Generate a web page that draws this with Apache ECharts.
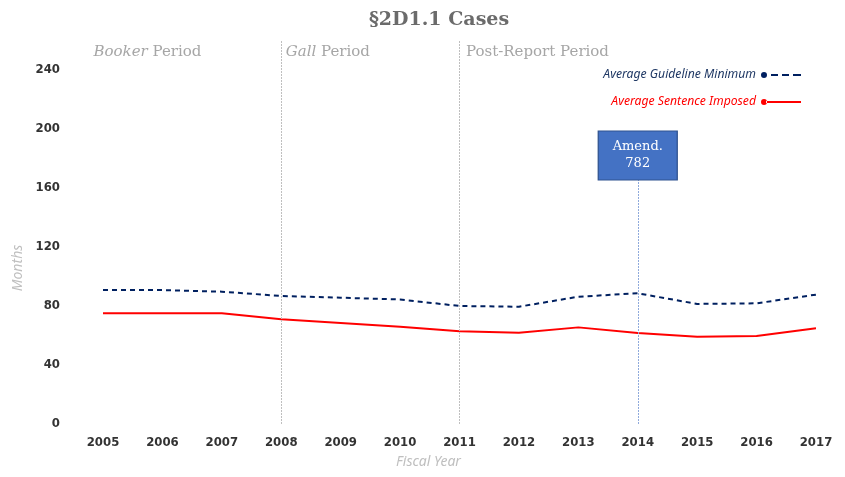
<!DOCTYPE html>
<html>
<head>
<meta charset="utf-8">
<script src="https://cdn.jsdelivr.net/npm/echarts@6/dist/echarts.min.js"></script>
<style>
  html, body { margin: 0; padding: 0; background: #fff; }
  #main { width: 845px; height: 477px; }
</style>
</head>
<body>
<div id="main"></div>
<script>
var years = ['2005','2006','2007','2008','2009','2010','2011','2012','2013','2014','2015','2016','2017'];
var guidelineMin = [90.8, 90.8, 89.7, 86.8, 85.6, 84.4, 80.0, 79.5, 86.3, 88.6, 81.4, 81.8, 87.7];
var sentenceImposed = [75.0, 75.0, 75.0, 71.0, 68.5, 66.0, 62.8, 61.9, 65.5, 61.7, 59.2, 59.7, 64.9];
var periodYears = ['2005', '2008', '2011'];
var periodNames = ['{i|Booker} Period', '{i|Gall} Period', 'Post-Report Period'];
var amendYear = '2014';

var labelFont = '"Liberation Sans Narrow", "DejaVu Sans Condensed", Roboto, sans-serif';
var serifFont = '"DejaVu Serif", "Liberation Serif", serif';
var greyText = '#BFBFBF';
var periodGrey = '#A6A6A6';

var periodOffsets = [-10, 4, 6];
var periodPoints = periodYears.map(function (y, i) {
  return {
    coord: [y, 252.2],
    label: { formatter: periodNames[i], offset: [periodOffsets[i], 0] }
  };
});

var myChart = echarts.init(document.getElementById('main'));
myChart.setOption({
  backgroundColor: '#fff',
  animation: false,
  title: {
    text: '§2D1.1 Cases',
    left: 434,
    textAlign: 'center',
    top: 6,
    textStyle: { fontFamily: serifFont, fontSize: 19, fontWeight: 'bold', color: '#6B6B6B' }
  },
  legend: {
    orient: 'vertical',
    right: 39,
    top: 64,
    align: 'right',
    itemWidth: 40,
    itemHeight: 6,
    itemGap: 15,
    textStyle: { fontFamily: '"Noto Sans", sans-serif', fontStyle: 'italic', fontSize: 12.2 },
    data: [
      {
        name: 'Average Guideline Minimum',
        icon: 'path://M0,3a3,3 0 1,0 6,0a3,3 0 1,0 -6,0z M10,2h7v2h-7z M21,2h7v2h-7z M32,2h8v2h-8z',
        textStyle: { color: '#1F3864' }
      },
      {
        name: 'Average Sentence Imposed',
        icon: 'path://M0,3a3,3 0 1,0 6,0a3,3 0 1,0 -6,0z M5,2h35v2h-35z',
        textStyle: { color: '#FF0000' }
      }
    ]
  },
  grid: { left: 103, right: 29, top: 40, bottom: 53 },
  xAxis: {
    type: 'category',
    data: years,
    boundaryGap: false,
    axisLine: { show: false },
    axisTick: { show: false },
    axisLabel: { margin: 12, fontFamily: labelFont, fontWeight: 'bold', fontSize: 13, color: '#333333' },
    name: 'Fiscal Year',
    nameLocation: 'middle',
    nameGap: 31,
    nameTextStyle: { fontFamily: '"Noto Sans", sans-serif', fontStyle: 'italic', fontSize: 14, color: greyText, padding: [0, 62, 0, 0] }
  },
  yAxis: {
    type: 'value',
    min: 0,
    max: 260.3,
    interval: 40,
    splitLine: { show: false },
    axisLine: { show: false },
    axisTick: { show: false },
    axisLabel: { showMaxLabel: false, margin: 43, padding: [4, 0, 0, 0], fontFamily: labelFont, fontWeight: 'bold', fontSize: 13, color: '#333333' },
    name: 'Months',
    nameLocation: 'middle',
    nameGap: 78,
    nameTextStyle: { fontFamily: '"Noto Sans", sans-serif', fontStyle: 'italic', fontSize: 14, color: greyText, padding: [0, 72, 0, 0] }
  },
  series: [
    {
      name: 'Average Guideline Minimum',
      type: 'line',
      data: guidelineMin,
      symbol: 'none',
      color: '#002060',
      lineStyle: { color: '#002060', width: 2, type: [5, 4] },
      markLine: {
        silent: true,
        symbol: ['none', 'none'],
        label: { show: false },
        lineStyle: { color: '#BFBFBF', width: 1, type: [2, 1] },
        data: [
          { xAxis: '2008', lineStyle: { color: '#BFBFBF' } },
          { xAxis: '2011', lineStyle: { color: '#BFBFBF' } }
        ]
      },
      markPoint: {
        silent: true,
        symbol: 'circle',
        symbolSize: 1,
        itemStyle: { color: 'rgba(0,0,0,0)' },
        label: {
          show: true,
          position: 'right',
          distance: 0,
          fontFamily: serifFont,
          fontSize: 15,
          color: periodGrey,
          rich: { i: { fontFamily: serifFont, fontSize: 15, fontStyle: 'italic', color: periodGrey } }
        },
        data: periodPoints
      }
    },
    {
      name: 'Average Sentence Imposed',
      type: 'line',
      data: sentenceImposed,
      symbol: 'none',
      color: '#FF0000',
      lineStyle: { color: '#FF0000', width: 2 },
      markLine: {
        silent: true,
        symbol: ['none', 'none'],
        label: { show: false },
        lineStyle: { color: '#8FAADC', width: 1, type: [2, 1] },
        data: [[{ coord: [amendYear, 0] }, { coord: [amendYear, 165.4] }]]
      },
      markPoint: {
        silent: true,
        symbol: 'rect',
        symbolSize: [79, 49],
        itemStyle: { color: '#4472C4', borderColor: '#2F528F', borderWidth: 1 },
        label: {
          show: true,
          position: 'inside',
          formatter: 'Amend.\n782',
          fontFamily: serifFont,
          fontSize: 13,
          lineHeight: 17,
          color: '#fff'
        },
        data: [{ coord: [amendYear, 182] }]
      }
    }
  ]
});
</script>
</body>
</html>
